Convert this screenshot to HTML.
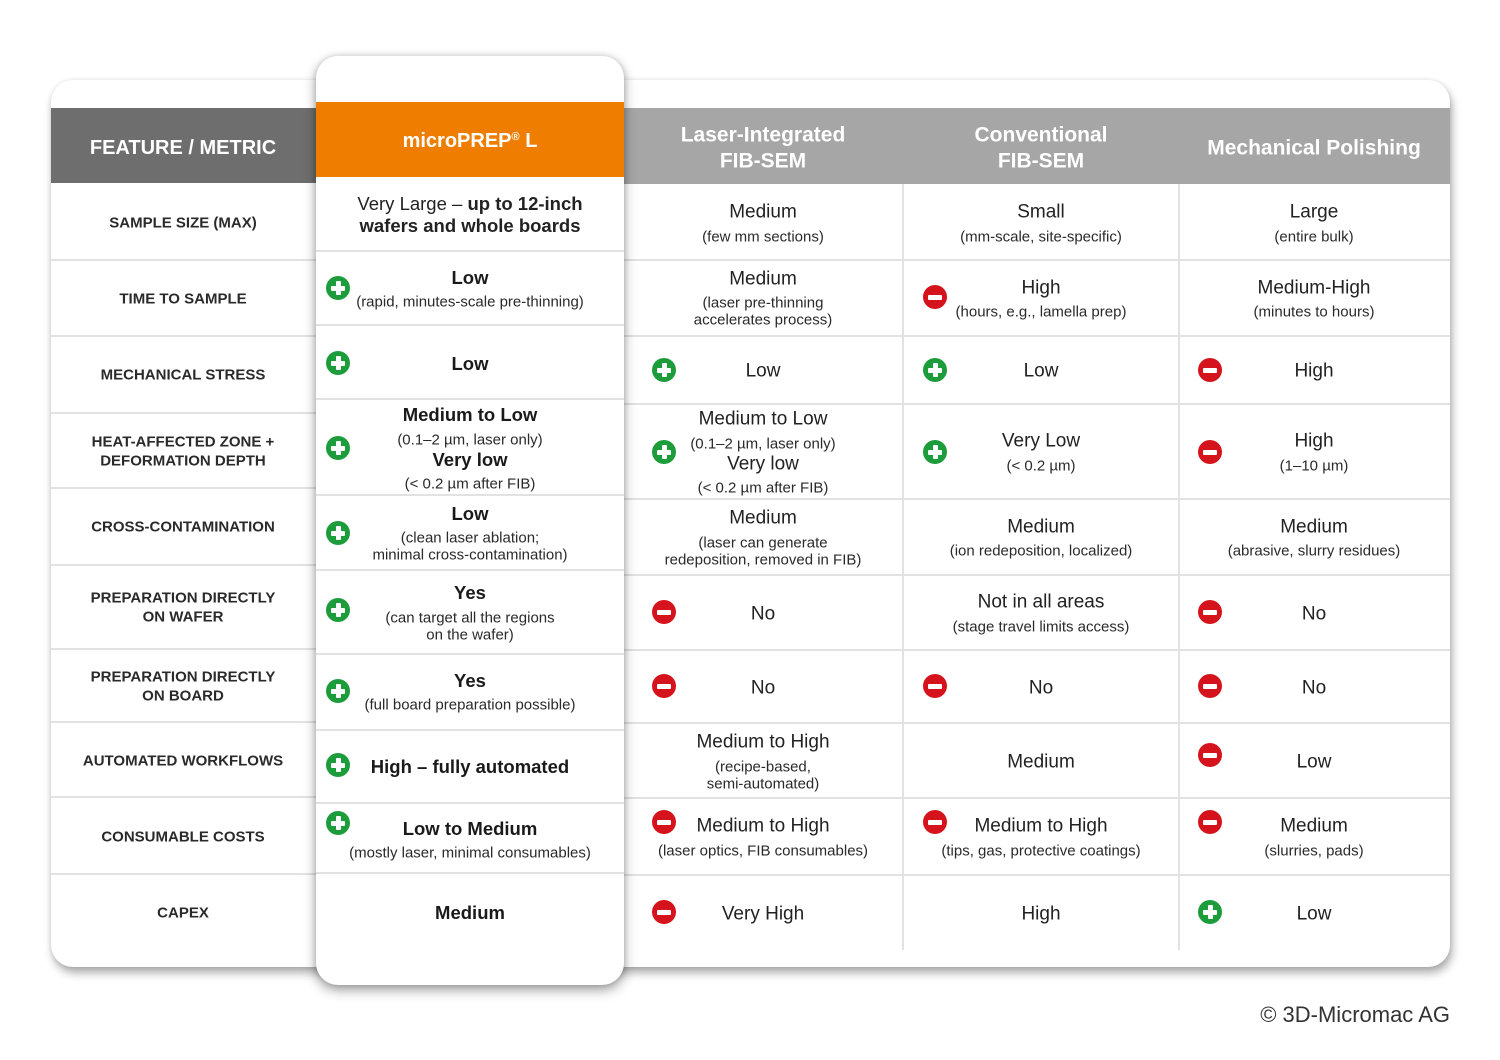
<!DOCTYPE html>
<html><head><meta charset="utf-8">
<style>
html,body{margin:0;padding:0;}
body{width:1500px;height:1060px;position:relative;background:#fff;overflow:hidden;font-family:"Liberation Sans",Arial,sans-serif;color:#222;}
.abs{position:absolute;}
.card{position:absolute;left:51px;top:80px;width:1399px;height:887px;border-radius:22px;background:#fff;box-shadow:2px 6px 9px rgba(0,0,0,0.32),0 0 5px rgba(0,0,0,0.10);}
.mp{position:absolute;left:316px;top:56px;width:308px;height:929px;border-radius:22px;background:#fff;box-shadow:0 5px 12px rgba(0,0,0,0.38),0 0 6px rgba(0,0,0,0.15);}
.hl{position:absolute;height:2px;background:#e2e2e2;}
.vl{position:absolute;width:2px;background:#e2e2e2;top:184px;height:766px;}
.t{position:absolute;transform:translate(-50%,calc(-50% + 1px));white-space:nowrap;line-height:1;}
.lab{font-size:15px;font-weight:bold;color:#2a2a2a;}
.m{font-size:19px;}
.b{font-size:18.5px;font-weight:bold;color:#1a1a1a;}
.s{font-size:15px;color:#2a2a2a;}
.h{font-size:21px;font-weight:bold;color:#fff;}
.ic{position:absolute;width:24px;height:24px;border-radius:50%;transform:translate(-50%,-50%);}
.ic::before{content:"";position:absolute;left:5px;top:9.5px;width:14px;height:5px;background:#fff;border-radius:1px;}
.p{background:#1d9c3c;}
.p::after{content:"";position:absolute;left:9.5px;top:5px;width:5px;height:14px;background:#fff;border-radius:1px;}
.n{background:#d4131c;}
</style></head>
<body>
<div class="card"></div>
<!-- headers -->
<div class="abs" style="left:51px;top:108px;width:265px;height:75px;background:#6e6e6e;"></div>
<div class="abs" style="left:624px;top:108px;width:826px;height:76px;background:#a6a6a6;"></div>
<!-- left row lines -->
<div class="hl" style="left:51px;width:265px;top:259px"></div>
<div class="hl" style="left:51px;width:265px;top:335px"></div>
<div class="hl" style="left:51px;width:265px;top:412px"></div>
<div class="hl" style="left:51px;width:265px;top:487px"></div>
<div class="hl" style="left:51px;width:265px;top:564px"></div>
<div class="hl" style="left:51px;width:265px;top:648px"></div>
<div class="hl" style="left:51px;width:265px;top:721px"></div>
<div class="hl" style="left:51px;width:265px;top:796px"></div>
<div class="hl" style="left:51px;width:265px;top:873px"></div>
<!-- right row lines -->
<div class="hl" style="left:624px;width:826px;top:259px"></div>
<div class="hl" style="left:624px;width:826px;top:335px"></div>
<div class="hl" style="left:624px;width:826px;top:403px"></div>
<div class="hl" style="left:624px;width:826px;top:498px"></div>
<div class="hl" style="left:624px;width:826px;top:574px"></div>
<div class="hl" style="left:624px;width:826px;top:649px"></div>
<div class="hl" style="left:624px;width:826px;top:722px"></div>
<div class="hl" style="left:624px;width:826px;top:797px"></div>
<div class="hl" style="left:624px;width:826px;top:874px"></div>
<div class="vl" style="left:902px"></div>
<div class="vl" style="left:1178px"></div>

<!-- microPREP card -->
<div class="mp"></div>
<div class="abs" style="left:316px;top:102px;width:308px;height:75px;background:#ee7d00;"></div>
<div class="hl" style="left:316px;width:308px;top:250px"></div>
<div class="hl" style="left:316px;width:308px;top:324px"></div>
<div class="hl" style="left:316px;width:308px;top:398px"></div>
<div class="hl" style="left:316px;width:308px;top:494px"></div>
<div class="hl" style="left:316px;width:308px;top:569px"></div>
<div class="hl" style="left:316px;width:308px;top:653px"></div>
<div class="hl" style="left:316px;width:308px;top:729px"></div>
<div class="hl" style="left:316px;width:308px;top:802px"></div>
<div class="hl" style="left:316px;width:308px;top:872px"></div>

<!-- header texts -->
<div class="t h" style="left:183px;top:147px;font-size:20px;">FEATURE / METRIC</div>
<div class="t h" style="left:470px;top:140px;font-size:20px;">microPREP<sup style="font-size:11px;vertical-align:7px;">®</sup> L</div>
<div class="t h" style="left:763px;top:134px;">Laser-Integrated</div>
<div class="t h" style="left:763px;top:160px;">FIB-SEM</div>
<div class="t h" style="left:1041px;top:134px;">Conventional</div>
<div class="t h" style="left:1041px;top:160px;">FIB-SEM</div>
<div class="t h" style="left:1314px;top:147px;">Mechanical Polishing</div>

<!-- left labels -->
<div class="t lab" style="left:183px;top:222px">SAMPLE SIZE (MAX)</div>
<div class="t lab" style="left:183px;top:298px">TIME TO SAMPLE</div>
<div class="t lab" style="left:183px;top:374px">MECHANICAL STRESS</div>
<div class="t lab" style="left:183px;top:441px">HEAT-AFFECTED ZONE +</div>
<div class="t lab" style="left:183px;top:460px">DEFORMATION DEPTH</div>
<div class="t lab" style="left:183px;top:526px">CROSS-CONTAMINATION</div>
<div class="t lab" style="left:183px;top:597px">PREPARATION DIRECTLY</div>
<div class="t lab" style="left:183px;top:616px">ON WAFER</div>
<div class="t lab" style="left:183px;top:676px">PREPARATION DIRECTLY</div>
<div class="t lab" style="left:183px;top:695px">ON BOARD</div>
<div class="t lab" style="left:183px;top:760px">AUTOMATED WORKFLOWS</div>
<div class="t lab" style="left:183px;top:836px">CONSUMABLE COSTS</div>
<div class="t lab" style="left:183px;top:912px">CAPEX</div>

<!-- microPREP column -->
<div class="t m" style="left:470px;top:203px;font-size:18.5px;">Very Large – <b>up to 12-inch</b></div>
<div class="t m" style="left:470px;top:225px;font-size:18.5px;"><b>wafers and whole boards</b></div>
<div class="t b" style="left:470px;top:277px">Low</div>
<div class="t s" style="left:470px;top:301px">(rapid, minutes-scale pre-thinning)</div>
<div class="t b" style="left:470px;top:363px">Low</div>
<div class="t b" style="left:470px;top:414px">Medium to Low</div>
<div class="t s" style="left:470px;top:439px">(0.1–2 µm, laser only)</div>
<div class="t b" style="left:470px;top:459px">Very low</div>
<div class="t s" style="left:470px;top:483px">(&lt; 0.2 µm after FIB)</div>
<div class="t b" style="left:470px;top:513px">Low</div>
<div class="t s" style="left:470px;top:537px">(clean laser ablation;</div>
<div class="t s" style="left:470px;top:554px">minimal cross-contamination)</div>
<div class="t b" style="left:470px;top:592px">Yes</div>
<div class="t s" style="left:470px;top:617px">(can target all the regions</div>
<div class="t s" style="left:470px;top:634px">on the wafer)</div>
<div class="t b" style="left:470px;top:680px">Yes</div>
<div class="t s" style="left:470px;top:704px">(full board preparation possible)</div>
<div class="t b" style="left:470px;top:766px">High – fully automated</div>
<div class="t b" style="left:470px;top:828px">Low to Medium</div>
<div class="t s" style="left:470px;top:852px">(mostly laser, minimal consumables)</div>
<div class="t b" style="left:470px;top:912px">Medium</div>

<div class="ic p" style="left:338px;top:288px"></div>
<div class="ic p" style="left:338px;top:363px"></div>
<div class="ic p" style="left:338px;top:448px"></div>
<div class="ic p" style="left:338px;top:533px"></div>
<div class="ic p" style="left:338px;top:610px"></div>
<div class="ic p" style="left:338px;top:691px"></div>
<div class="ic p" style="left:338px;top:765px"></div>
<div class="ic p" style="left:338px;top:823px"></div>

<!-- Laser-Integrated FIB-SEM -->
<div class="t m" style="left:763px;top:211px">Medium</div>
<div class="t s" style="left:763px;top:236px">(few mm sections)</div>
<div class="t m" style="left:763px;top:278px">Medium</div>
<div class="t s" style="left:763px;top:302px">(laser pre-thinning</div>
<div class="t s" style="left:763px;top:319px">accelerates process)</div>
<div class="t m" style="left:763px;top:370px">Low</div>
<div class="t m" style="left:763px;top:418px">Medium to Low</div>
<div class="t s" style="left:763px;top:443px">(0.1–2 µm, laser only)</div>
<div class="t m" style="left:763px;top:463px">Very low</div>
<div class="t s" style="left:763px;top:487px">(&lt; 0.2 µm after FIB)</div>
<div class="t m" style="left:763px;top:517px">Medium</div>
<div class="t s" style="left:763px;top:542px">(laser can generate</div>
<div class="t s" style="left:763px;top:559px">redeposition, removed in FIB)</div>
<div class="t m" style="left:763px;top:613px">No</div>
<div class="t m" style="left:763px;top:687px">No</div>
<div class="t m" style="left:763px;top:741px">Medium to High</div>
<div class="t s" style="left:763px;top:766px">(recipe-based,</div>
<div class="t s" style="left:763px;top:783px">semi-automated)</div>
<div class="t m" style="left:763px;top:825px">Medium to High</div>
<div class="t s" style="left:763px;top:850px">(laser optics, FIB consumables)</div>
<div class="t m" style="left:763px;top:913px">Very High</div>

<div class="ic p" style="left:664px;top:370px"></div>
<div class="ic p" style="left:664px;top:452px"></div>
<div class="ic n" style="left:664px;top:612px"></div>
<div class="ic n" style="left:664px;top:686px"></div>
<div class="ic n" style="left:664px;top:822px"></div>
<div class="ic n" style="left:664px;top:912px"></div>

<!-- Conventional FIB-SEM -->
<div class="t m" style="left:1041px;top:211px">Small</div>
<div class="t s" style="left:1041px;top:236px">(mm-scale, site-specific)</div>
<div class="t m" style="left:1041px;top:287px">High</div>
<div class="t s" style="left:1041px;top:311px">(hours, e.g., lamella prep)</div>
<div class="t m" style="left:1041px;top:370px">Low</div>
<div class="t m" style="left:1041px;top:440px">Very Low</div>
<div class="t s" style="left:1041px;top:465px">(&lt; 0.2 µm)</div>
<div class="t m" style="left:1041px;top:526px">Medium</div>
<div class="t s" style="left:1041px;top:550px">(ion redeposition, localized)</div>
<div class="t m" style="left:1041px;top:601px">Not in all areas</div>
<div class="t s" style="left:1041px;top:626px">(stage travel limits access)</div>
<div class="t m" style="left:1041px;top:687px">No</div>
<div class="t m" style="left:1041px;top:761px">Medium</div>
<div class="t m" style="left:1041px;top:825px">Medium to High</div>
<div class="t s" style="left:1041px;top:850px">(tips, gas, protective coatings)</div>
<div class="t m" style="left:1041px;top:913px">High</div>

<div class="ic n" style="left:935px;top:297px"></div>
<div class="ic p" style="left:935px;top:370px"></div>
<div class="ic p" style="left:935px;top:452px"></div>
<div class="ic n" style="left:935px;top:686px"></div>
<div class="ic n" style="left:935px;top:822px"></div>

<!-- Mechanical Polishing -->
<div class="t m" style="left:1314px;top:211px">Large</div>
<div class="t s" style="left:1314px;top:236px">(entire bulk)</div>
<div class="t m" style="left:1314px;top:287px">Medium-High</div>
<div class="t s" style="left:1314px;top:311px">(minutes to hours)</div>
<div class="t m" style="left:1314px;top:370px">High</div>
<div class="t m" style="left:1314px;top:440px">High</div>
<div class="t s" style="left:1314px;top:465px">(1–10 µm)</div>
<div class="t m" style="left:1314px;top:526px">Medium</div>
<div class="t s" style="left:1314px;top:550px">(abrasive, slurry residues)</div>
<div class="t m" style="left:1314px;top:613px">No</div>
<div class="t m" style="left:1314px;top:687px">No</div>
<div class="t m" style="left:1314px;top:761px">Low</div>
<div class="t m" style="left:1314px;top:825px">Medium</div>
<div class="t s" style="left:1314px;top:850px">(slurries, pads)</div>
<div class="t m" style="left:1314px;top:913px">Low</div>

<div class="ic n" style="left:1210px;top:370px"></div>
<div class="ic n" style="left:1210px;top:452px"></div>
<div class="ic n" style="left:1210px;top:612px"></div>
<div class="ic n" style="left:1210px;top:686px"></div>
<div class="ic n" style="left:1210px;top:755px"></div>
<div class="ic n" style="left:1210px;top:822px"></div>
<div class="ic p" style="left:1210px;top:912px"></div>

<!-- footer -->
<div class="abs" style="right:50px;top:1002px;font-size:22px;line-height:26px;color:#333;white-space:nowrap;">© 3D-Micromac AG</div>
</body></html>
